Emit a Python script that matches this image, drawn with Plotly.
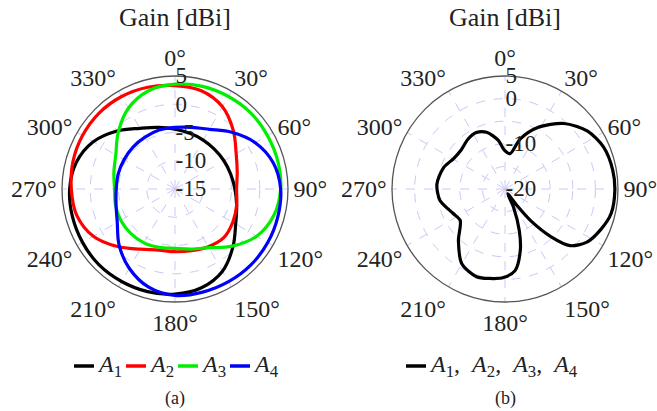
import plotly.graph_objects as go

# Azimuth grid (degrees) for the four single-port patterns
theta_a = [0, 15, 30, 45, 60, 75, 90, 105, 120, 135, 150, 165,
           180, 195, 210, 225, 240, 255, 270, 285, 300, 315, 330, 345, 360]

# Realised gain in dBi for each port
gain_a1 = [-4.4, -4.8, -5.0, -5.1, -5.0, -4.8, -4.4, -3.7, -2.6, -0.5, 1.8, 3.1,
           3.6, 3.8, 3.9, 4.0, 3.9, 3.8, 3.65, 3.1, 1.7, -0.5, -2.6, -3.7, -4.4]
gain_a2 = [3.3, 3.0, 1.8, -0.4, -2.5, -3.6, -4.1, -3.7, -3.2, -2.8, -3.2, -3.7,
           -3.9, -3.8, -2.7, -0.6, 1.7, 3.0, 3.35, 3.7, 3.9, 4.0, 3.9, 3.65, 3.3]
gain_a3 = [3.55, 3.8, 3.9, 4.0, 3.9, 3.85, 3.7, 3.1, 1.7, -0.7, -3.0, -4.0,
           -4.5, -4.3, -4.0, -3.9, -3.9, -4.1, -4.3, -3.8, -2.9, -0.8, 1.5, 3.0, 3.55]
gain_a4 = [-4.1, -3.7, -2.8, -0.8, 1.4, 3.0, 3.7, 3.85, 3.95, 4.0, 3.95, 3.9,
           3.85, 3.0, 1.2, -1.0, -3.2, -4.2, -4.6, -4.6, -4.6, -4.5, -4.4, -4.2, -4.1]

# Combined pattern (all ports excited), traced in order around the contour
theta_b = [8, 17, 28, 42, 55, 67, 80, 91, 103, 113, 123, 131, 136, 141, 144,
           150, 155, 161, 166, 173, 181, 190, 198, 210, 222, 235, 245, 260,
           274, 289, 301, 312, 323, 333, 342, 352, 359, 368]
gain_b = [-12.1, -8.4, -4.6, -0.5, 2.3, 3.7, 4.2, 4.3, 4.1, 3.0, 1.6, -0.9,
          -5.3, -11.0, -15.4, -18.8, -15.5, -10.3, -6.0, -1.8, -0.4, 0.1, 0.4,
          -0.9, -4.6, -7.9, -7.3, -5.4, -4.9, -5.6, -6.8, -7.0, -6.3, -6.0,
          -6.8, -9.1, -11.4, -12.1]

angle_ticks = [0, 30, 60, 90, 120, 150, 180, 210, 240, 270, 300, 330]
angle_labels = [f"{a}°" for a in angle_ticks]
r_ticks_a = [5, 0, -5, -10, -15]
r_labels_a = ["5", "0", "-5", "-10", "-15"]
r_ticks_b = [5, 0, -5, -10, -15, -20]
r_labels_b = ["5", "0", "", "-10", "", "-20"]

port_names = ["<i>A</i><sub>1</sub>", "<i>A</i><sub>2</sub>",
              "<i>A</i><sub>3</sub>", "<i>A</i><sub>4</sub>"]
port_colors = ["#000000", "#ff0000", "#00ee00", "#0000ff"]
combined_name = ",&nbsp; ".join(port_names)

FONT = "Liberation Serif, DejaVu Serif, serif"
TEXT = "#222222"
GRID = "#c9c9f4"
W, H = 657, 411

fig = go.Figure()
for name, gain, color in zip(port_names, [gain_a1, gain_a2, gain_a3, gain_a4], port_colors):
    fig.add_trace(go.Scatterpolar(
        r=gain, theta=theta_a, mode="lines", name=name, subplot="polar",
        line=dict(color=color, width=3.2, shape="spline", smoothing=1.0),
        showlegend=False,
    ))

fig.add_trace(go.Scatterpolar(
    r=gain_b, theta=theta_b, mode="lines", subplot="polar2",
    name=combined_name,
    line=dict(color="#000000", width=3.2, shape="spline", smoothing=0.8),
    showlegend=False,
))


def polar_layout(domain_x, domain_y, rng, tickvals, ticktext):
    return dict(
        domain=dict(x=domain_x, y=domain_y),
        bgcolor="white",
        angularaxis=dict(
            rotation=90, direction="clockwise",
            tickvals=angle_ticks, ticktext=angle_labels,
            tickfont=dict(family=FONT, size=24, color=TEXT),
            showline=True, linecolor="#555", linewidth=1.3,
            ticks="", showgrid=True, gridcolor=GRID, griddash="dash", gridwidth=1.2,
        ),
        radialaxis=dict(
            range=rng, tickvals=tickvals, ticktext=ticktext,
            angle=90, tickangle=90, side="clockwise",
            tickfont=dict(family=FONT, size=23, color=TEXT),
            showline=False, ticks="",
            showgrid=True, gridcolor=GRID, griddash="dash", gridwidth=1.2,
        ),
    )


fig.update_layout(
    width=W, height=H,
    margin=dict(l=0, r=0, t=0, b=0),
    paper_bgcolor="white",
    font=dict(family=FONT, color=TEXT),
    polar=polar_layout([62 / W, 288 / W], [1 - 302 / H, 1 - 76 / H],
                       [-15, 5], r_ticks_a, r_labels_a),
    polar2=polar_layout([392 / W, 618 / W], [1 - 302 / H, 1 - 76 / H],
                        [-20, 5], r_ticks_b, r_labels_b),
    showlegend=False,
)


def legend_key(x0, y, color, label, key_len=20):
    """Short line sample followed by its label (compact LaTeX-style legend)."""
    fig.add_shape(type="line", xref="paper", yref="paper",
                  x0=x0 / W, x1=(x0 + key_len) / W, y0=1 - y / H, y1=1 - y / H,
                  line=dict(color=color, width=3.5))
    fig.add_annotation(x=(x0 + key_len + 1) / W, y=1 - y / H, xref="paper", yref="paper",
                       xanchor="left", yanchor="middle", text=label, showarrow=False,
                       font=dict(family=FONT, size=24, color=TEXT))


LEGEND_Y = 366
for i, (name, color) in enumerate(zip(port_names, port_colors)):
    legend_key(74 + 52 * i, LEGEND_Y, color, name)
legend_key(406, LEGEND_Y, "#000000", combined_name)

for cx, label in [(175, "(a)"), (505, "(b)")]:
    fig.add_annotation(x=cx / W, y=1 - 18 / H, xref="paper", yref="paper",
                       xanchor="center", yanchor="middle",
                       text="Gain [dBi]", showarrow=False,
                       font=dict(family=FONT, size=26, color=TEXT))
    fig.add_annotation(x=cx / W, y=1 - 398 / H, xref="paper", yref="paper",
                       xanchor="center", yanchor="middle",
                       text=label, showarrow=False,
                       font=dict(family=FONT, size=18, color=TEXT))

fig.write_html("out.html")
